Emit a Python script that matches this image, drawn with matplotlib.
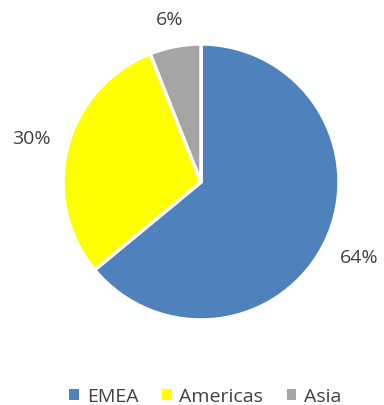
import matplotlib.pyplot as plt
from matplotlib.patches import Patch

regions = ['EMEA', 'Americas', 'Asia']
shares = [64, 30, 6]
colors = ['#4F81BD', '#FFFF00', '#A5A5A5']

plt.rcParams['font.family'] = ['Open Sans', 'DejaVu Sans']

fig = plt.figure(figsize=(3.84, 4.06), dpi=100)
ax = fig.add_axes([(201 - 138) / 384, (406 - 183 - 138) / 406, 276 / 384, 276 / 406])

wedges, texts, autotexts = ax.pie(
    shares, colors=colors, startangle=90, counterclock=False,
    autopct='%1.0f%%', pctdistance=1.27,
    wedgeprops=dict(edgecolor='white', linewidth=2.5),
    textprops=dict(color='#404040', fontsize=14))
# small slice label sits a bit closer to the pie
x, y = autotexts[2].get_position()
autotexts[2].set_position((x * 1.2 / 1.27, y * 1.2 / 1.27))
ax.set_xlim(-1, 1)
ax.set_ylim(-1, 1)
ax.set_aspect('equal')

handles = [Patch(facecolor=c, edgecolor='none') for c in colors]
fig.legend(handles, regions, loc='center', bbox_to_anchor=(0.535, 1 - 397 / 406),
           ncol=3, frameon=False, fontsize=14, handlelength=0.5, handleheight=0.5,
           handletextpad=0.4, columnspacing=1.2, labelcolor='#404040')

fig.savefig('out.png', dpi=100)
